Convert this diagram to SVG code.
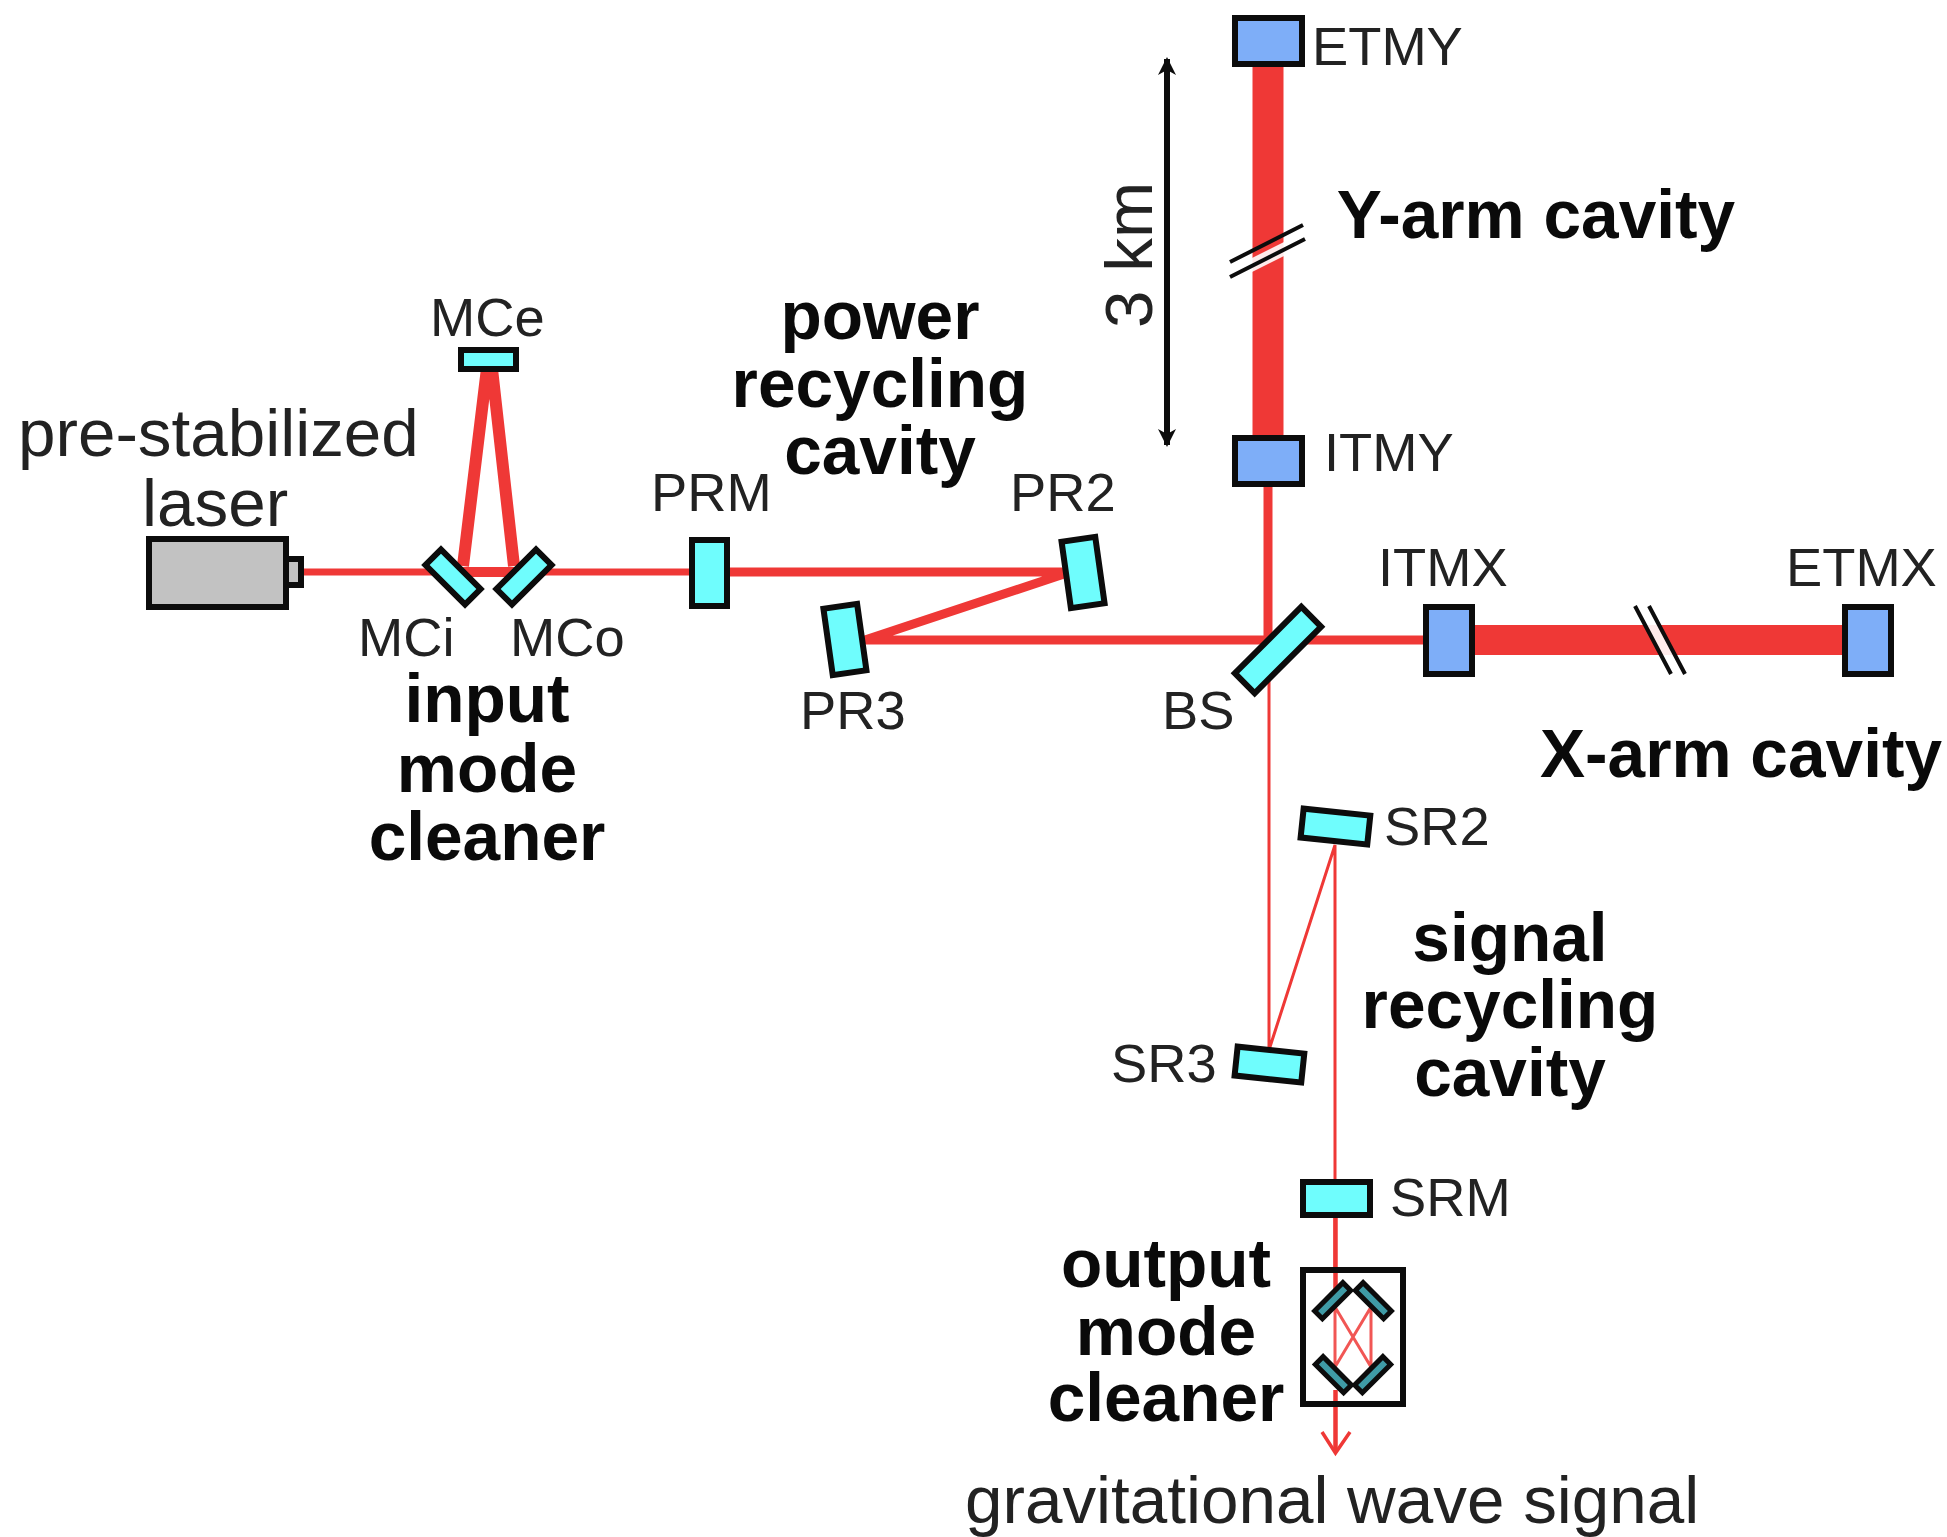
<svg xmlns="http://www.w3.org/2000/svg" width="1947" height="1537" viewBox="0 0 1947 1537">
<style>
.t{font-family:"Liberation Sans",Arial,sans-serif;font-size:54.3px;fill:#222}
.b{font-family:"Liberation Sans",Arial,sans-serif;font-size:67.6px;font-weight:700;fill:#0a0a0a;text-anchor:middle}
.l{font-family:"Liberation Sans",Arial,sans-serif;font-size:67.4px;fill:#222}
.c{fill:#6ffdfd;stroke:#0c0c0c;stroke-width:6}
.o{fill:#3f9ba6;stroke:#0c0c0c;stroke-width:5}
.m{fill:#7eaef8;stroke:#0c0c0c;stroke-width:6}
.r{stroke:#ef3836;fill:none}
.k{stroke:#0c0c0c;fill:none}
</style>
<defs>
<marker id="dim" viewBox="0 0 18 18" refX="16" refY="9" markerWidth="18" markerHeight="18" markerUnits="userSpaceOnUse" orient="auto-start-reverse"><path d="M0 0L18 9L0 18L5 9Z" fill="#0c0c0c"/></marker>
</defs>
<rect width="1947" height="1537" fill="#fff"/>
<g id="connectors">
<path class="r" stroke-width="7" d="M300 572H690"/>
<path class="r" stroke-width="12" d="M463 566L488 360M514 566L491 360"/>
<path class="r" stroke-width="10" d="M460 572H520"/>
<path class="r" stroke-width="9" d="M725 572H1070L865 640H1428"/>
<path class="r" stroke-width="9" d="M1268 640V480"/>
<path class="r" stroke-width="31" d="M1268 60V440"/>
<path class="r" stroke-width="30" d="M1470 640H1848"/>
<path class="r" stroke-width="3" d="M1269 660V1050L1335 845V1270"/>
<path class="r" stroke-width="4.5" d="M1335.5 1210V1290M1335.5 1390V1450"/>
<path class="r" stroke-width="3" stroke-opacity=".85" d="M1335 1307V1367M1371 1307V1367M1335 1307L1371 1367M1371 1307L1335 1367"/>
<path class="r" stroke-width="3.5" d="M1322 1432L1335.5 1453L1350 1432"/>
<path fill="#fff" fill-opacity=".9" d="M1232 268L1304 232V246L1232 282Z"/>
<path fill="#fff" fill-opacity=".9" d="M1636 606L1650 606L1684 674L1670 674Z"/>
<path class="k" stroke-width="4" d="M1230 262L1303 225M1230 277L1305 239M1635 606L1671 674M1649 606L1685 674"/>
<path class="k" stroke-width="6" marker-start="url(#dim)" marker-end="url(#dim)" d="M1167 59V445"/>
</g>
<g id="laser"><rect x="149" y="539" width="137" height="68" fill="#c2c2c2" stroke="#0c0c0c" stroke-width="6"/><rect x="286" y="559" width="15" height="26" fill="#c2c2c2" stroke="#0c0c0c" stroke-width="6"/></g>
<g id="MCe"><rect class="c" x="461" y="350" width="55" height="19"/></g>
<g id="MCi"><rect class="c" transform="rotate(45 453 577)" x="425" y="566" width="56" height="22"/></g>
<g id="MCo"><rect class="c" transform="rotate(-45 524 577)" x="496" y="566" width="56" height="22"/></g>
<g id="PRM"><rect class="c" x="692" y="540" width="35" height="66"/></g>
<g id="PR2"><rect class="c" transform="rotate(-8 1083 572)" x="1066" y="539" width="34" height="67"/></g>
<g id="PR3"><rect class="c" transform="rotate(-8 845 640)" x="828" y="606" width="34" height="67"/></g>
<g id="BS"><rect class="c" transform="rotate(-45 1278 650)" x="1231" y="636" width="94" height="28"/></g>
<g id="ITMY"><rect class="m" x="1235" y="438" width="67" height="46"/></g>
<g id="ETMY"><rect class="m" x="1235" y="18" width="67" height="46"/></g>
<g id="ITMX"><rect class="m" x="1426" y="607" width="46" height="67"/></g>
<g id="ETMX"><rect class="m" x="1845" y="607" width="46" height="67"/></g>
<g id="SR2"><rect class="c" transform="rotate(6 1335 826)" x="1302" y="812" width="67" height="29"/></g>
<g id="SR3"><rect class="c" transform="rotate(6 1269 1064)" x="1236" y="1050" width="67" height="29"/></g>
<g id="SRM"><rect class="c" x="1303" y="1182" width="67" height="33"/></g>
<g id="OMC"><rect x="1303" y="1270" width="100" height="134" fill="none" stroke="#0c0c0c" stroke-width="6"/>
<rect class="o" transform="rotate(-45 1333 1301)" x="1313" y="1295" width="40" height="11"/>
<rect class="o" transform="rotate(45 1373 1301)" x="1353" y="1295" width="40" height="11"/>
<rect class="o" transform="rotate(45 1333 1375)" x="1313" y="1369" width="40" height="11"/>
<rect class="o" transform="rotate(-45 1373 1375)" x="1353" y="1369" width="40" height="11"/></g>
<g id="labels">
<text class="l" x="18" y="456">pre-stabilized<tspan x="142" y="526">laser</tspan></text>
<text class="t" x="430" y="336">MCe</text><text class="t" x="358" y="656">MCi</text><text class="t" x="510" y="656">MCo</text>
<text class="t" x="651" y="511">PRM</text><text class="t" x="1010" y="511">PR2</text><text class="t" x="800" y="729">PR3</text><text class="t" x="1162" y="729">BS</text>
<text class="t" x="1312" y="65">ETMY</text><text class="t" x="1324" y="471">ITMY</text><text class="t" x="1378" y="586">ITMX</text><text class="t" x="1786" y="586">ETMX</text>
<text class="t" x="1384" y="845">SR2</text><text class="t" x="1111" y="1082">SR3</text><text class="t" x="1390" y="1216">SRM</text>
<text class="b" x="487" y="722">input<tspan x="487" y="792">mode</tspan><tspan x="487" y="860">cleaner</tspan></text>
<text class="b" x="880" y="339">power<tspan x="880" y="407">recycling</tspan><tspan x="880" y="474">cavity</tspan></text>
<text class="b" x="1510" y="961">signal<tspan x="1510" y="1028">recycling</tspan><tspan x="1510" y="1096">cavity</tspan></text>
<text class="b" x="1166" y="1287">output<tspan x="1166" y="1355">mode</tspan><tspan x="1166" y="1421">cleaner</tspan></text>
<text class="b" x="1536" y="238">Y-arm cavity</text><text class="b" x="1741" y="777">X-arm cavity</text>
<text class="l" x="965" y="1523">gravitational wave signal</text>
<text class="l" transform="rotate(-90 1152 328)" x="1152" y="328">3 km</text>
</g>
</svg>
